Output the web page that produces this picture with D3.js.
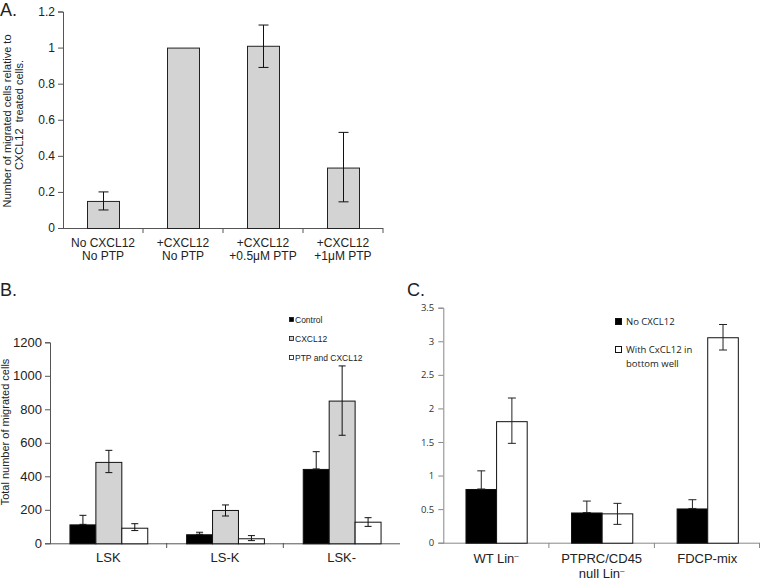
<!DOCTYPE html>
<html><head><meta charset="utf-8">
<script src="https://cdn.jsdelivr.net/npm/d3@7"></script>
<style>body{margin:0;background:#fff}svg{display:block}</style>
</head><body>
<svg id="c" width="760" height="581"></svg>
<script>
// Panel A data
const catsA = [["No CXCL12","No PTP"],["+CXCL12","No PTP"],["+CXCL12","+0.5\u03bcM PTP"],["+CXCL12","+1\u03bcM PTP"]];
const valsA = [0.15, 1.0, 1.01, 0.335];
const errLoA = [0.10, null, 0.89, 0.145];
const errHiA = [0.20, null, 1.125, 0.53];
const ticksA = [0,0.2,0.4,0.6,0.8,1,1.2];

// Panel B data
const groupsB = ["LSK","LS-K","LSK-"];
const seriesB = ["Control","CXCL12","PTP and CXCL12"];
const controlB = [113, 54, 444];
const controlBHi = [167, 66, 547];
const cxcl12B = [486, 199, 852];
const cxcl12BLo = [422, 163, 645];
const cxcl12BHi = [555, 229, 1059];
const ptpB = [93, 30, 129];
const ptpBLo = [76, 16, 101];
const ptpBHi = [117, 46, 153];
const ticksB = [0,200,400,600,800,1000,1200];

// Panel C data
const catsC = ["WT","PTPRC","FDCP"];
const labelsC = [[["WT Lin","-"]],[["PTPRC/CD45"],["null Lin","-"]],[["FDCP-mix"]]];
const seriesC = ["No CXCL12","With CxCL12 in bottom well"];
const noC = [0.80, 0.45, 0.51];
const noCHi = [1.07, 0.62, 0.64];
const withC = [1.81, 0.437, 3.06];
const withCLo = [1.48, 0.273, 2.87];
const withCHi = [2.155, 0.586, 3.25];
const ticksC = [0,0.5,1,1.5,2,2.5,3,3.5];

const svg = d3.select("#c");
const F = "Liberation Sans, Arial, sans-serif";

function errBar(g, x, lo, hi, cap, col){
  g.append("line").attr("x1",x).attr("x2",x).attr("y1",lo).attr("y2",hi).attr("stroke",col||"#111").attr("stroke-width",1);
  g.append("line").attr("x1",x-cap).attr("x2",x+cap).attr("y1",hi).attr("y2",hi).attr("stroke",col||"#111");
  g.append("line").attr("x1",x-cap).attr("x2",x+cap).attr("y1",lo).attr("y2",lo).attr("stroke",col||"#111");
}

// ---------- Panel A ----------
{
  const g = svg.append("g");
  const x = d3.scaleBand().domain(d3.range(catsA.length)).range([63,383]).paddingInner(0.6).paddingOuter(0.3);
  const y = d3.scaleLinear().domain([0,1.2]).range([228,11.5]);
  const ax = g.append("g").attr("transform","translate(63,0)")
    .call(d3.axisLeft(y).tickValues(ticksA).tickSize(5).tickFormat(d3.format("")));
  ax.select(".domain").attr("stroke","#555");
  ax.selectAll(".tick line").attr("stroke","#555");
  ax.selectAll(".tick text").attr("font-family",F).attr("font-size",12).attr("fill","#222").attr("x",-8);
  g.append("line").attr("x1",63).attr("x2",383).attr("y1",228.5).attr("y2",228.5).attr("stroke","#555");
  const bounds = d3.range(catsA.length).map(i=>x(i)-x.step()*x.paddingInner()/2).concat([383]).slice(1);
  bounds.forEach(b=>g.append("line").attr("x1",b).attr("x2",b).attr("y1",228).attr("y2",233).attr("stroke","#555"));
  g.selectAll(".barA").data(valsA).join("rect")
    .attr("x",(d,i)=>x(i)+0.5).attr("width",x.bandwidth()).attr("y",d=>y(d)+0.5).attr("height",d=>y(0)-y(d))
    .attr("fill","#d3d3d3").attr("stroke","#222").attr("stroke-width",1);
  valsA.forEach((d,i)=>{ if(errHiA[i]!=null) errBar(g, x(i)+x.bandwidth()/2+0.5, y(errLoA[i]), y(errHiA[i]), 5); });
  catsA.forEach((c,i)=>{
    const cx = x(i)+x.bandwidth()/2;
    c.forEach((t,j)=>g.append("text").attr("x",cx).attr("y",247+j*13).attr("text-anchor","middle")
      .attr("font-family",F).attr("font-size",12).attr("fill","#222").text(t));
  });
  g.append("text").attr("transform","translate(11,121) rotate(-90)").attr("text-anchor","middle")
    .attr("font-family",F).attr("font-size",11).attr("fill","#222").text("Number of migrated cells relative to");
  g.append("text").attr("transform","translate(23,115) rotate(-90)").attr("text-anchor","middle")
    .attr("font-family",F).attr("font-size",11).attr("fill","#222").attr("xml:space","preserve").text("CXCL12  treated cells.");
  g.append("text").attr("x",0).attr("y",16).attr("font-family",F).attr("font-size",18).attr("fill","#222").text("A.");
}

// ---------- Panel B ----------
{
  const g = svg.append("g");
  const x0 = d3.scaleBand().domain(groupsB).range([50,400]).paddingInner(0.333).paddingOuter(0.1667);
  const x1 = d3.scaleBand().domain(seriesB).range([0,x0.bandwidth()]);
  const y = d3.scaleLinear().domain([0,1200]).range([543.3,342.3]);
  const ax = g.append("g").attr("transform","translate(50,0)")
    .call(d3.axisLeft(y).tickValues(ticksB).tickSize(5).tickFormat(d3.format("d")));
  ax.select(".domain").attr("stroke","#555");
  ax.selectAll(".tick line").attr("stroke","#555");
  ax.selectAll(".tick text").attr("font-family",F).attr("font-size",13).attr("fill","#222").attr("x",-8);
  g.append("line").attr("x1",50).attr("x2",400).attr("y1",543.8).attr("y2",543.8).attr("stroke","#555");
  groupsB.slice(1).forEach(gr=>{const b=x0(gr)-x0.step()*x0.paddingInner()/2;
    g.append("line").attr("x1",b).attr("x2",b).attr("y1",543).attr("y2",548).attr("stroke","#555");});
  const series = [
    {name:seriesB[0], vals:controlB, lo:controlB, hi:controlBHi, fill:"#000"},
    {name:seriesB[1], vals:cxcl12B, lo:cxcl12BLo, hi:cxcl12BHi, fill:"#d3d3d3"},
    {name:seriesB[2], vals:ptpB, lo:ptpBLo, hi:ptpBHi, fill:"#fff"}
  ];
  series.forEach(s=>{
    groupsB.forEach((gr,i)=>{
      const bx = x0(gr)+x1(s.name);
      g.append("rect").attr("x",bx+0.5).attr("width",x1.bandwidth()).attr("y",y(s.vals[i])+0.5)
        .attr("height",y(0)-y(s.vals[i])).attr("fill",s.fill).attr("stroke","#111");
      errBar(g, bx+x1.bandwidth()/2+0.5, y(s.lo[i]), y(s.hi[i]), 3.5);
    });
  });
  groupsB.forEach(gr=>g.append("text").attr("x",x0(gr)+x0.bandwidth()/2).attr("y",562).attr("text-anchor","middle")
    .attr("font-family",F).attr("font-size",13).attr("fill","#222").text(gr));
  g.append("text").attr("transform","translate(9,432) rotate(-90)").attr("text-anchor","middle")
    .attr("font-family",F).attr("font-size",11).attr("fill","#222").text("Total number of migrated cells");
  g.append("text").attr("x",0).attr("y",296).attr("font-family",F).attr("font-size",18).attr("fill","#222").text("B.");
  const ly = d3.scalePoint().domain(seriesB).range([320,358]);
  series.forEach(s=>{
    g.append("rect").attr("x",289.5).attr("y",ly(s.name)-2.5).attr("width",4).attr("height",4)
      .attr("fill",s.fill).attr("stroke","#111").attr("stroke-width",0.8);
    g.append("text").attr("x",295).attr("y",ly(s.name)+3).attr("font-family",F).attr("font-size",8.5)
      .attr("fill","#222").text(s.name);
  });
}

// ---------- Panel C ----------
{
  const g = svg.append("g");
  const FC = "Open Sans, DejaVu Sans, sans-serif";
  const x0 = d3.scaleBand().domain(catsC).range([443.3,760]).paddingInner(0.42).paddingOuter(0.21);
  const x1 = d3.scaleBand().domain(seriesC).range([0,x0.bandwidth()]);
  const y = d3.scaleLinear().domain([0,3.5]).range([542.7,307.7]);
  const ax = g.append("g").attr("transform","translate(443.3,0)")
    .call(d3.axisLeft(y).tickValues(ticksC).tickSize(5).tickFormat(d3.format("")));
  ax.select(".domain").attr("stroke","#888");
  ax.selectAll(".tick line").attr("stroke","#888");
  ax.selectAll(".tick text").attr("font-family",FC).attr("font-size",9.5).attr("fill","#333").attr("x",-9);
  g.append("line").attr("x1",443).attr("x2",760).attr("y1",543.2).attr("y2",543.2).attr("stroke","#888");
  catsC.slice(1).forEach(c=>{const b=x0(c)-x0.step()*x0.paddingInner()/2;
    g.append("line").attr("x1",b).attr("x2",b).attr("y1",543).attr("y2",548).attr("stroke","#888");});
  g.append("line").attr("x1",759.5).attr("x2",759.5).attr("y1",543).attr("y2",548).attr("stroke","#888");
  const series = [
    {name:seriesC[0], vals:noC, lo:noC, hi:noCHi, fill:"#000"},
    {name:seriesC[1], vals:withC, lo:withCLo, hi:withCHi, fill:"#fff"}
  ];
  series.forEach(s=>{
    catsC.forEach((c,i)=>{
      const bx = x0(c)+x1(s.name);
      g.append("rect").attr("x",bx+0.5).attr("width",x1.bandwidth()).attr("y",y(s.vals[i])+0.5)
        .attr("height",y(0)-y(s.vals[i])).attr("fill",s.fill).attr("stroke","#111");
      errBar(g, bx+x1.bandwidth()/2+0.5, y(s.lo[i]), y(s.hi[i]), 4, "#222");
    });
  });
  catsC.forEach((c,i)=>{
    const cx = x0(c)+x0.bandwidth()/2;
    labelsC[i].forEach((ln,j)=>{
      const t = g.append("text").attr("x",cx).attr("y",563+j*15).attr("text-anchor","middle")
        .attr("font-family",F).attr("font-size",13).attr("fill","#222");
      t.append("tspan").text(ln[0]);
      if(ln[1]) t.append("tspan").attr("dy",-5).attr("font-size",8).text("\u2012");
    });
  });
  g.append("text").attr("x",407).attr("y",296).attr("font-family",F).attr("font-size",18).attr("fill","#222").text("C.");
  g.append("rect").attr("x",615.5).attr("y",318.5).attr("width",6).attr("height",6).attr("fill","#000").attr("stroke","#111");
  g.append("text").attr("x",626).attr("y",325).attr("font-family",FC).attr("font-size",9.5).attr("fill","#222").text(seriesC[0]);
  g.append("rect").attr("x",615.5).attr("y",346.5).attr("width",6).attr("height",6).attr("fill","#fff").attr("stroke","#111");
  g.append("text").attr("x",626).attr("y",353).attr("font-family",FC).attr("font-size",9.5).attr("fill","#222").text("With CxCL12 in");
  g.append("text").attr("x",626).attr("y",367).attr("font-family",FC).attr("font-size",9.5).attr("fill","#222").text("bottom well");
}
</script>
</body></html>
